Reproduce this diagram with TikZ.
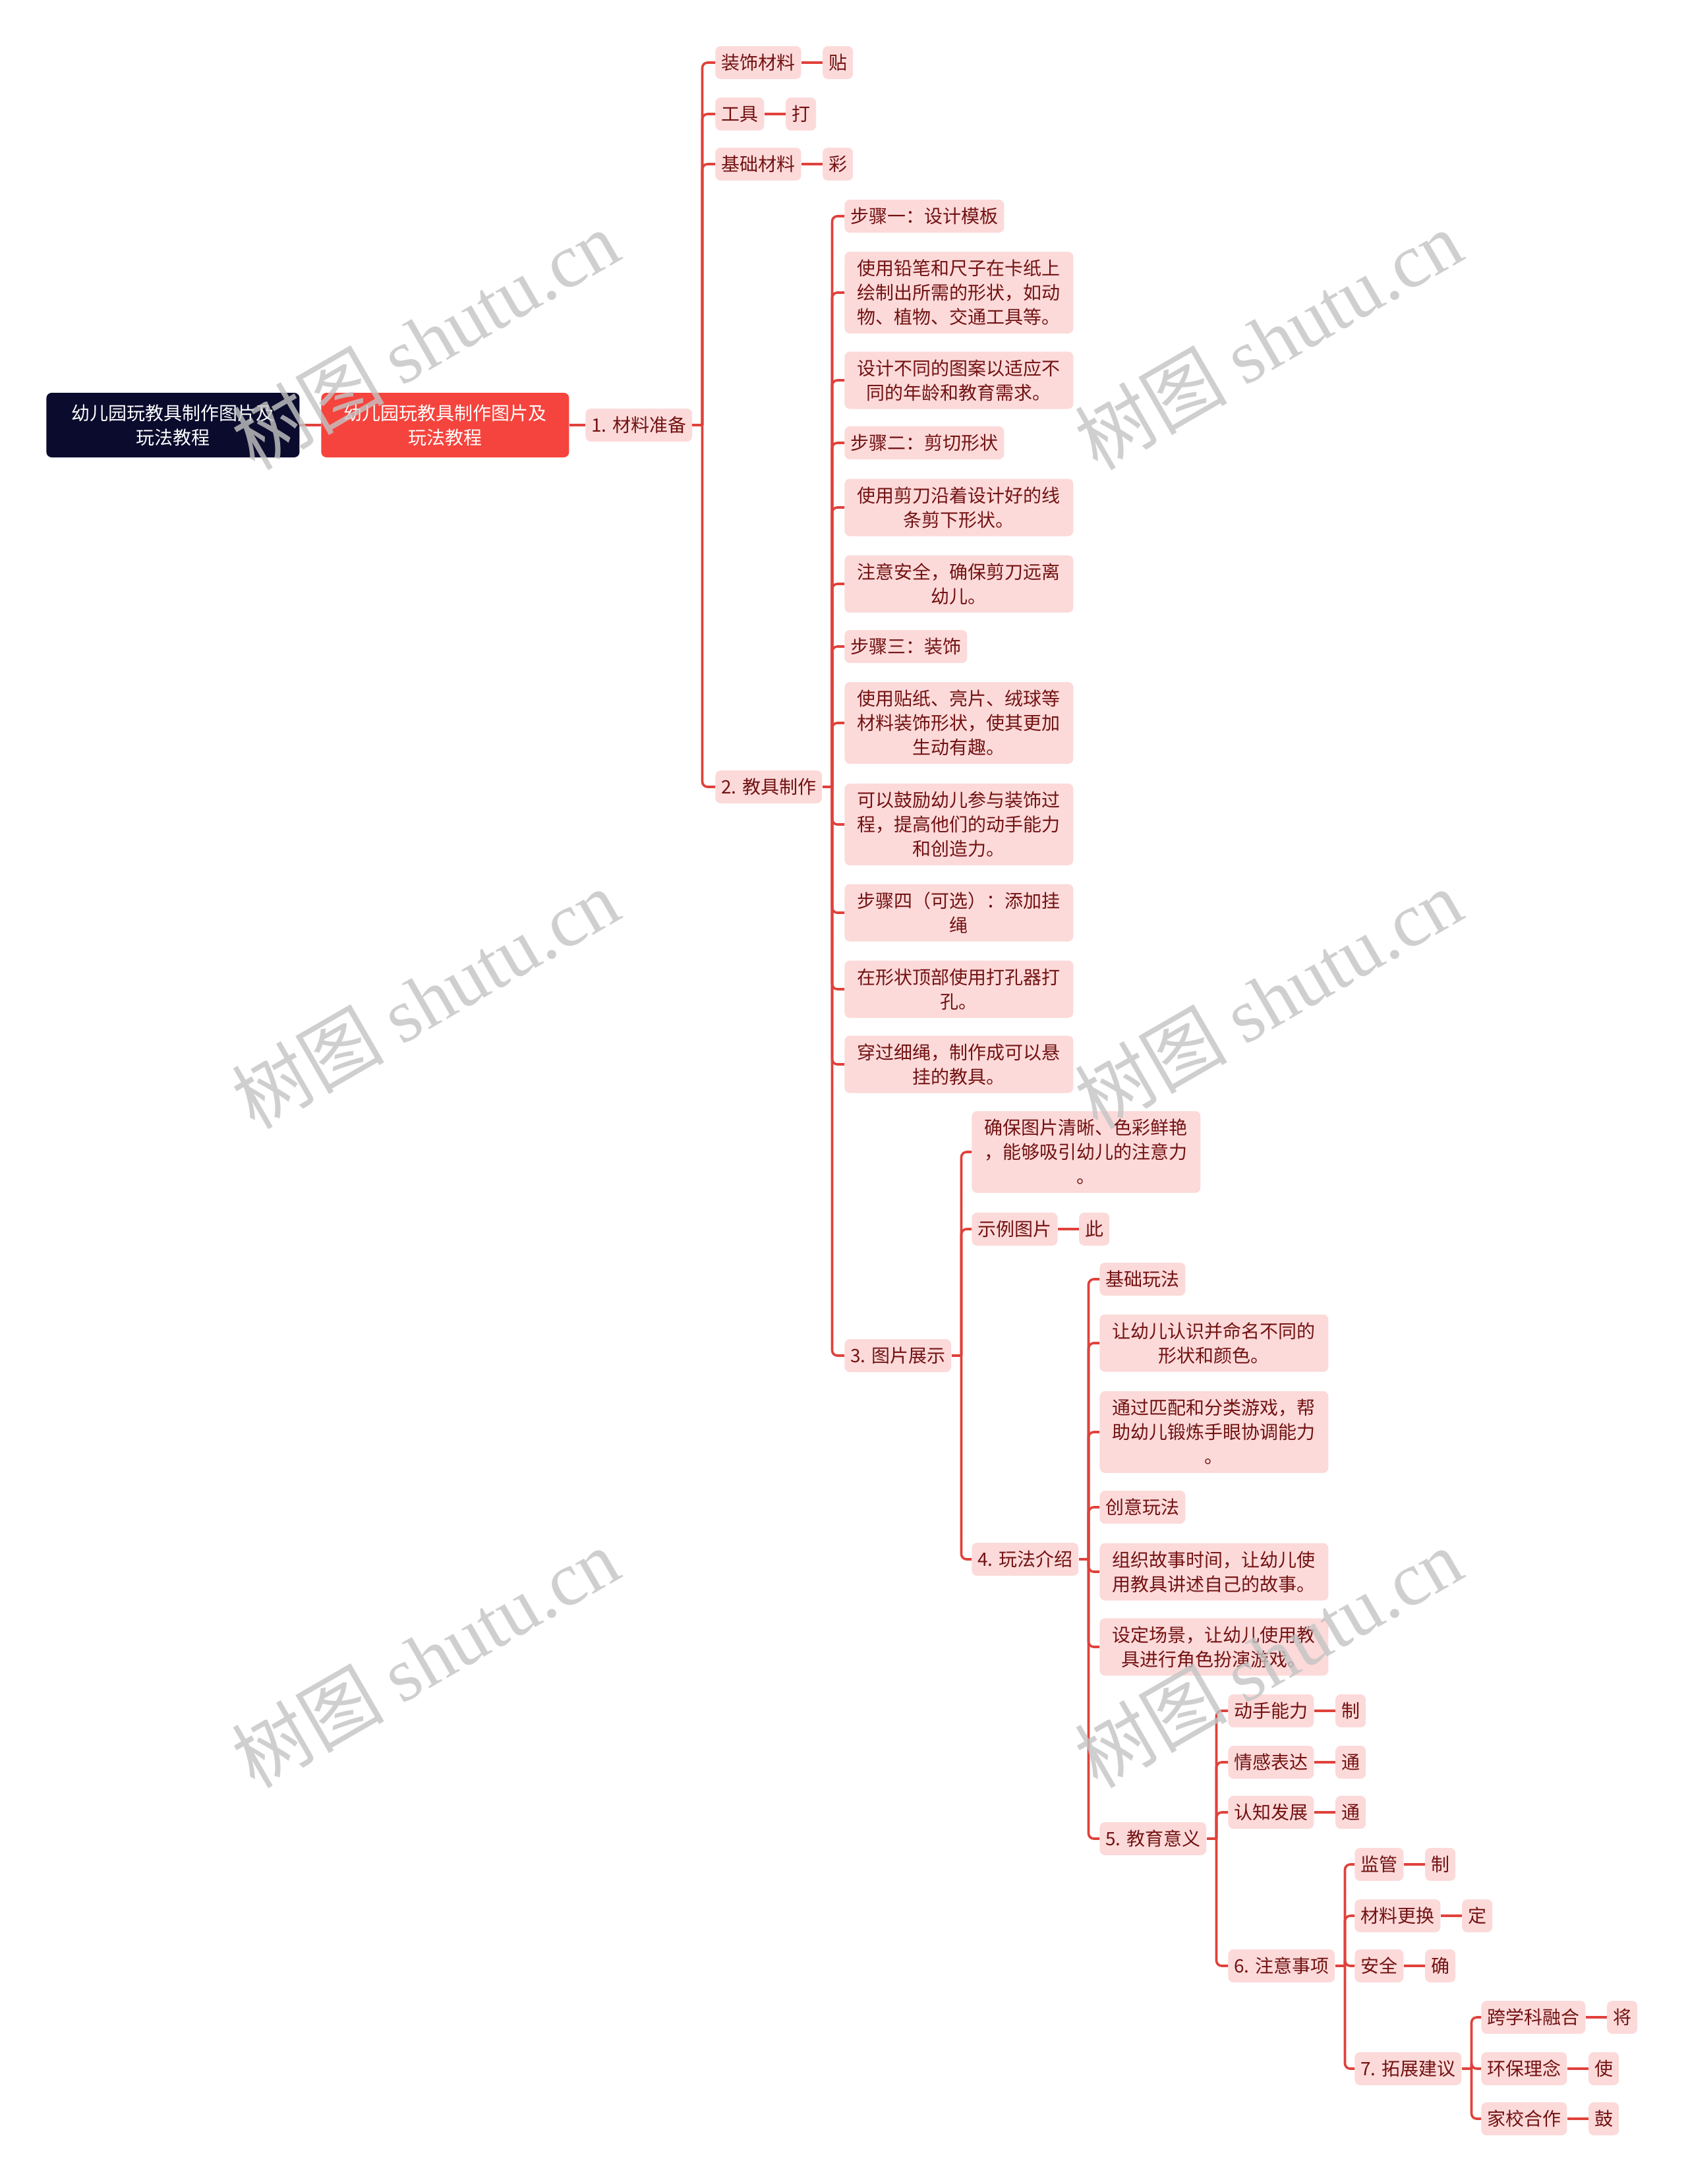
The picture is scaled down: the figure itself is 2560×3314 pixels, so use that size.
\documentclass[tikz,border=0pt]{standalone}
\usepackage{fontspec}
\setmainfont{Noto Sans CJK SC}
\newfontfamily\wmlatin{Liberation Serif}
\usetikzlibrary{positioning}

\definecolor{rootblue}{HTML}{0B0B2E}
\definecolor{mainred}{HTML}{F5443D}
\definecolor{pinkfill}{HTML}{FCDADA}
\definecolor{darkred}{HTML}{731212}
\definecolor{linkred}{HTML}{E0413B}
\definecolor{wmgray}{HTML}{C4C4C4}

\newcommand{\nodestrut}{\rule[-3.9pt]{0pt}{18.5pt}}

\tikzset{
    box/.style={rounded corners=4pt, fill=pinkfill, text=darkred, inner xsep=4.5pt, inner ysep=3.25pt,
        minimum height=25pt, font=\fontsize{14}{18.5}\selectfont,
        execute at begin node=\nodestrut, execute at end node=\nodestrut},
    topic/.style={box, anchor=west},
    note/.style={topic, align=center, text width=156pt, inner xsep=8.75pt},
    leaf/.style={box, right=16pt of #1},
    head/.style={rounded corners=4pt, text=white, align=center, text width=156pt, inner ysep=6pt,
        font=\fontsize{14}{18.5}\selectfont, anchor=west,
        execute at begin node=\nodestrut, execute at end node=\nodestrut},
    link/.style={draw=linkred, line width=1.8pt, rounded corners=4pt},
    wm/.style={text=wmgray, text opacity=0.8, rotate=30, font=\fontsize{58}{58}\selectfont},
}

\begin{document}
\begin{tikzpicture}[x=0.5pt, y=-0.5pt]
    \fill[white] (0,0) rectangle (2560,3314);
    \useasboundingbox (0,0) rectangle (2560,3314);

    % root and main topic
    \node[head, fill=rootblue, inner xsep=18pt] (root) at (70,645) {幼儿园玩教具制作图片及\\玩法教程};
    \node[head, fill=mainred, inner xsep=16pt] (main) at (487,645) {幼儿园玩教具制作图片及\\玩法教程};
    \node[topic] (m1) at (888,645) {1. 材料准备};

    % 1. materials
    \node[topic] (a1) at (1085,95) {装饰材料};
    \node[leaf=a1] (a1x) {贴};
    \node[topic] (a2) at (1085,173) {工具};
    \node[leaf=a2] (a2x) {打};
    \node[topic] (a3) at (1085,249) {基础材料};
    \node[leaf=a3] (a3x) {彩};
    \node[topic] (m2) at (1085,1194) {2. 教具制作};

    % 2. making
    \node[topic] (b1) at (1281,328) {步骤一：设计模板};
    \node[note] (b2) at (1281,444) {使用铅笔和尺子在卡纸上\\绘制出所需的形状，如动\\物、植物、交通工具等。};
    \node[note] (b3) at (1281,577) {设计不同的图案以适应不\\同的年龄和教育需求。};
    \node[topic] (b4) at (1281,672) {步骤二：剪切形状};
    \node[note] (b5) at (1281,770) {使用剪刀沿着设计好的线\\条剪下形状。};
    \node[note] (b6) at (1281,886) {注意安全，确保剪刀远离\\幼儿。};
    \node[topic] (b7) at (1281,981) {步骤三：装饰};
    \node[note] (b8) at (1281,1097) {使用贴纸、亮片、绒球等\\材料装饰形状，使其更加\\生动有趣。};
    \node[note] (b9) at (1281,1251) {可以鼓励幼儿参与装饰过\\程，提高他们的动手能力\\和创造力。};
    \node[note] (b10) at (1281,1385) {步骤四（可选）：添加挂\\绳};
    \node[note] (b11) at (1281,1501) {在形状顶部使用打孔器打\\孔。};
    \node[note] (b12) at (1281,1615) {穿过细绳，制作成可以悬\\挂的教具。};
    \node[topic] (m3) at (1281,2057) {3. 图片展示};

    % 3. pictures
    \node[note] (c1) at (1474,1748) {确保图片清晰、色彩鲜艳\\，能够吸引幼儿的注意力\\。};
    \node[topic] (c2) at (1474,1865) {示例图片};
    \node[leaf=c2] (c2x) {此};
    \node[topic] (m4) at (1474,2366) {4. 玩法介绍};

    % 4. play
    \node[topic] (d1) at (1668,1941) {基础玩法};
    \node[note] (d2) at (1668,2038) {让幼儿认识并命名不同的\\形状和颜色。};
    \node[note] (d3) at (1668,2173) {通过匹配和分类游戏，帮\\助幼儿锻炼手眼协调能力\\。};
    \node[topic] (d4) at (1668,2287) {创意玩法};
    \node[note] (d5) at (1668,2385) {组织故事时间，让幼儿使\\用教具讲述自己的故事。};
    \node[note] (d6) at (1668,2499) {设定场景，让幼儿使用教\\具进行角色扮演游戏。};
    \node[topic] (m5) at (1668,2790) {5. 教育意义};

    % 5. meaning
    \node[topic] (e1) at (1863,2596) {动手能力};
    \node[leaf=e1] (e1x) {制};
    \node[topic] (e2) at (1863,2674) {情感表达};
    \node[leaf=e2] (e2x) {通};
    \node[topic] (e3) at (1863,2750) {认知发展};
    \node[leaf=e3] (e3x) {通};
    \node[topic] (m6) at (1863,2983) {6. 注意事项};

    % 6. notes
    \node[topic] (f1) at (2055,2829) {监管};
    \node[leaf=f1] (f1x) {制};
    \node[topic] (f2) at (2055,2907) {材料更换};
    \node[leaf=f2] (f2x) {定};
    \node[topic] (f3) at (2055,2983) {安全};
    \node[leaf=f3] (f3x) {确};
    \node[topic] (m7) at (2055,3139) {7. 拓展建议};

    % 7. extension
    \node[topic] (g1) at (2247,3061) {跨学科融合};
    \node[leaf=g1] (g1x) {将};
    \node[topic] (g2) at (2247,3139) {环保理念};
    \node[leaf=g2] (g2x) {使};
    \node[topic] (g3) at (2247,3215) {家校合作};
    \node[leaf=g3] (g3x) {鼓};

    % connectors
    \draw[link] (root.east) -- (main.west);
    \draw[link] (main.east) -- (m1.west);
    \foreach \p/\kids in {m1/{a1,a2,a3,m2}, m2/{b1,b2,b3,b4,b5,b6,b7,b8,b9,b10,b11,b12,m3},
                          m3/{c1,c2,m4}, m4/{d1,d2,d3,d4,d5,d6,m5}, m5/{e1,e2,e3,m6},
                          m6/{f1,f2,f3,m7}, m7/{g1,g2,g3}} {
        \draw[link] (\p.east) -- ++(15,0);
        \foreach \kid in \kids
            \draw[link] (\p.east) ++(15,0) |- (\kid.west);
    }
    \foreach \kid in {a1,a2,a3,c2,e1,e2,e3,f1,f2,f3,g1,g2,g3}
        \draw[link] (\kid.east) -- (\kid x.west);

    % watermark
    \foreach \x/\y in {645/515, 1924/515, 645/1515, 1924/1515, 645/2515, 1924/2515}
        \node[wm] at (\x,\y) {树图 {\wmlatin shutu.cn}};
\end{tikzpicture}
\end{document}
